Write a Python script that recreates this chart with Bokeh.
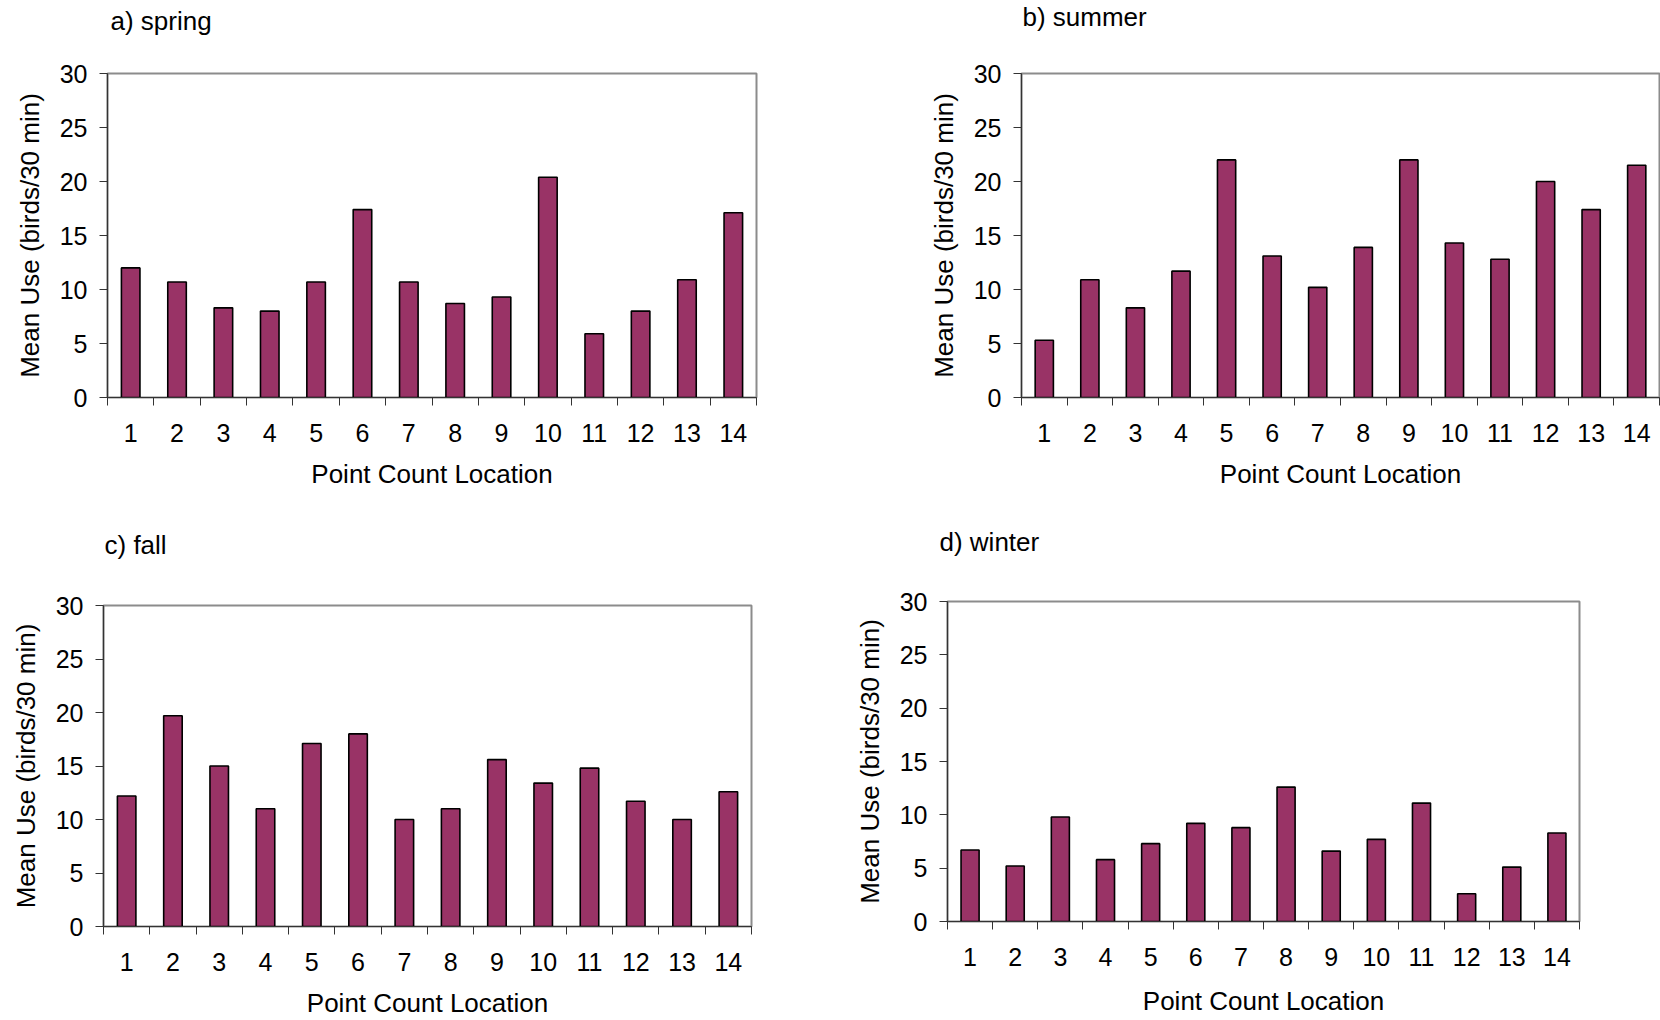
from bokeh.plotting import figure
from bokeh.models import FixedTicker, Range1d
from bokeh.layouts import column, row
from bokeh.embed import file_html
from bokeh.resources import INLINE

# ---------------- data ----------------
locations = list(range(1, 15))
spring = [12.0, 10.7, 8.3, 8.0, 10.7, 17.4, 10.7, 8.7, 9.3, 20.4, 5.9, 8.0, 10.9, 17.1]
summer = [5.3, 10.9, 8.3, 11.7, 22.0, 13.1, 10.2, 13.9, 22.0, 14.3, 12.8, 20.0, 17.4, 21.5]
fall = [12.2, 19.7, 15.0, 11.0, 17.1, 18.0, 10.0, 11.0, 15.6, 13.4, 14.8, 11.7, 10.0, 12.6]
winter = [6.7, 5.2, 9.8, 5.8, 7.3, 9.2, 8.8, 12.6, 6.6, 7.7, 11.1, 2.6, 5.1, 8.3]
titles = ["a) spring", "b) summer", "c) fall", "d) winter"]
y_ticks = [0, 5, 10, 15, 20, 25, 30]
x_label = "Point Count Location"
y_label = "Mean Use (birds/30 min)"

FONT = "Liberation Sans"
BAR = "#993366"
X_MIN, X_MAX = 0.5, 14.5
Y_MIN, Y_MAX = 0, 30


def panel(title, values, width, height, left, right, top, bottom, t_dx, t_lh,
          xlabel_standoff=14):
    p = figure(width=width, height=height,
               x_range=Range1d(X_MIN, X_MAX), y_range=Range1d(Y_MIN, Y_MAX),
               output_backend="svg", toolbar_location=None,
               min_border_left=left, min_border_right=right,
               min_border_top=top, min_border_bottom=bottom)
    if hasattr(p, "frame_align"):
        p.frame_align = False
    p.vbar(x=locations, top=values, bottom=0, width=0.4,
           fill_color=BAR, line_color="black", line_width=1.6)

    p.xgrid.visible = False
    p.ygrid.visible = False
    p.outline_line_color = "#8c8c8c"
    p.outline_line_width = 2
    p.background_fill_color = "white"
    p.border_fill_color = "white"

    # x axis: labels at category centres, tick marks at boundaries
    xa = p.xaxis[0]
    xa.ticker = FixedTicker(ticks=locations,
                            minor_ticks=[i + 0.5 for i in range(0, 15)])
    xa.major_tick_out = 0
    xa.major_tick_in = 0
    xa.minor_tick_out = 8
    xa.minor_tick_in = 0
    xa.minor_tick_line_color = "#333333"
    xa.axis_line_color = "#333333"
    xa.axis_line_width = 1.2
    xa.major_label_text_font = FONT
    xa.major_label_text_font_size = "25px"
    xa.major_label_text_color = "black"
    xa.major_label_standoff = 18
    xa.axis_label = x_label
    xa.axis_label_text_font = FONT
    xa.axis_label_text_font_size = "26px"
    xa.axis_label_text_font_style = "normal"
    xa.axis_label_text_color = "black"
    xa.axis_label_standoff = xlabel_standoff

    ya = p.yaxis[0]
    ya.ticker = FixedTicker(ticks=y_ticks)
    ya.major_tick_out = 8
    ya.major_tick_in = 0
    ya.minor_tick_out = 0
    ya.minor_tick_in = 0
    ya.major_tick_line_color = "#333333"
    ya.axis_line_color = "#333333"
    ya.axis_line_width = 1.2
    ya.major_label_text_font = FONT
    ya.major_label_text_font_size = "25px"
    ya.major_label_text_color = "black"
    ya.major_label_standoff = 12
    ya.axis_label = y_label
    ya.axis_label_text_font = FONT
    ya.axis_label_text_font_size = "26px"
    ya.axis_label_text_font_style = "normal"
    ya.axis_label_text_color = "black"
    ya.axis_label_standoff = 12

    # caption: an invisible second line lifts the visible one away from the frame
    p.title.text = title + "\n\u00a0"
    p.title.align = "left"
    p.title.vertical_align = "bottom"
    p.title.offset = t_dx
    p.title.standoff = 0
    p.title.text_line_height = t_lh
    p.title.text_font = FONT
    p.title.text_font_size = "26px"
    p.title.text_font_style = "normal"
    p.title.text_color = "black"
    return p


pa = panel(titles[0], spring, 880, 500, 107, 124, 73, 103, 3, 1.26)
pb = panel(titles[1], summer, 780, 500, 141, 1, 73, 103, 1, 1.37)
pc = panel(titles[2], fall, 850, 520, 103, 99, 105, 91, 1, 1.53)
pd = panel(titles[3], winter, 810, 520, 97, 81, 101, 99, -8, 1.50, 17)

layout = column(row(pa, pb, spacing=0), row(pc, pd, spacing=0), spacing=0)

open("out.html", "w").write(file_html(layout, INLINE))
